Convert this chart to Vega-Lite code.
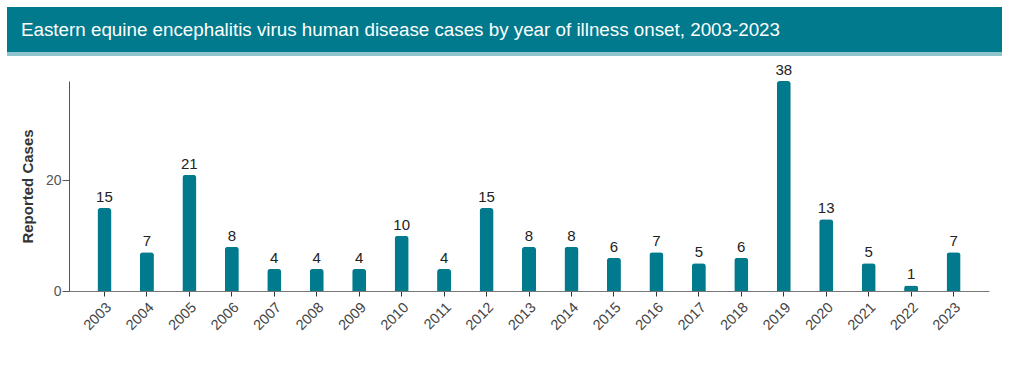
{
  "$schema": "https://vega.github.io/schema/vega-lite/v6.json",
  "padding": {"left": 7, "top": 7, "right": 0, "bottom": 0},
  "background": "white",
  "config": {"view": {"stroke": null}, "font": "Liberation Sans"},
  "spacing": 7,
  "datasets": {
    "cases": [
      {"year": 2003, "cases": 15},
      {"year": 2004, "cases": 7},
      {"year": 2005, "cases": 21},
      {"year": 2006, "cases": 8},
      {"year": 2007, "cases": 4},
      {"year": 2008, "cases": 4},
      {"year": 2009, "cases": 4},
      {"year": 2010, "cases": 10},
      {"year": 2011, "cases": 4},
      {"year": 2012, "cases": 15},
      {"year": 2013, "cases": 8},
      {"year": 2014, "cases": 8},
      {"year": 2015, "cases": 6},
      {"year": 2016, "cases": 7},
      {"year": 2017, "cases": 5},
      {"year": 2018, "cases": 6},
      {"year": 2019, "cases": 38},
      {"year": 2020, "cases": 13},
      {"year": 2021, "cases": 5},
      {"year": 2022, "cases": 1},
      {"year": 2023, "cases": 7}
    ],
    "header": [{"title": "Eastern equine encephalitis virus human disease cases by year of illness onset, 2003-2023", "x": 0, "y": 0.5}],
    "blank": [{"k": 1}]
  },
  "vconcat": [
    {
      "spacing": 0,
      "vconcat": [
        {
          "width": 995,
          "height": 45,
          "view": {"fill": "#007a8c", "stroke": null},
          "data": {"name": "header"},
          "mark": {"type": "text", "align": "left", "baseline": "middle", "dx": 14, "color": "white", "fontSize": 18.8, "font": "Liberation Sans"},
          "encoding": {
            "x": {"field": "x", "type": "quantitative", "scale": {"domain": [0, 1]}, "axis": null},
            "y": {"field": "y", "type": "quantitative", "scale": {"domain": [0, 1]}, "axis": null},
            "text": {"field": "title"}
          }
        },
        {
          "width": 995,
          "height": 4,
          "view": {"fill": "#8ec5cd", "stroke": null},
          "data": {"name": "blank"},
          "mark": {"type": "text", "fontSize": 0},
          "encoding": {"text": {"value": ""}}
        }
      ]
    },
    {
      "spacing": 12,
      "hconcat": [
        {
          "width": 1,
          "height": 1,
          "data": {"name": "blank"},
          "mark": {"type": "text", "fontSize": 0},
          "encoding": {"text": {"value": ""}}
        },
        {
          "width": 920,
          "height": 210,
          "data": {"name": "cases"},
          "encoding": {
            "x": {
              "field": "year",
              "type": "ordinal",
              "scale": {"paddingInner": 0.67, "paddingOuter": 0.67},
              "axis": {
                "title": null,
                "labelAngle": -45,
                "labelFontSize": 14.5,
                "labelColor": "#444",
                "tickColor": "#333",
                "tickSize": 5,
                "domainColor": "#777",
                "labelPadding": 4
              }
            },
            "y": {
              "field": "cases",
              "type": "quantitative",
              "scale": {"domain": [0, 38], "nice": false},
              "axis": {
                "title": "Reported Cases",
                "values": [0, 20],
                "grid": false,
                "titleFontSize": 15,
                "titleFontWeight": "bold",
                "titleColor": "#333",
                "labelFontSize": 14,
                "labelColor": "#555",
                "tickColor": "#555",
                "tickSize": 7,
                "domainColor": "#555",
                "labelPadding": 1,
                "titlePadding": 10
              }
            }
          },
          "layer": [
            {"mark": {"type": "bar", "color": "#007a8c", "cornerRadiusTopLeft": 3, "cornerRadiusTopRight": 3}},
            {
              "mark": {"type": "text", "baseline": "alphabetic", "dy": -6, "fontSize": 15, "color": "#222"},
              "encoding": {"text": {"field": "cases", "type": "quantitative"}}
            }
          ]
        }
      ]
    }
  ]
}
